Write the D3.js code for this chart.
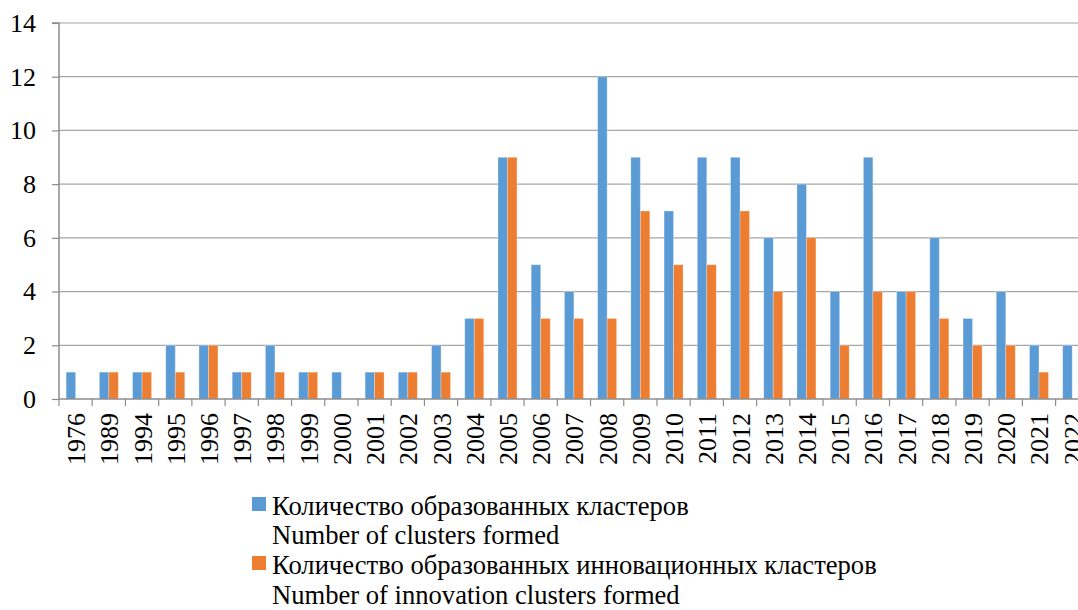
<!DOCTYPE html>
<html><head><meta charset="utf-8">
<script src="https://cdn.jsdelivr.net/npm/d3@7"></script>
<style>body{margin:0;background:#fff;overflow:hidden}svg{display:block}</style>
</head><body>
<svg id="c" width="1078" height="610"></svg>
<script>
const years = ["1976","1989","1994","1995","1996","1997","1998","1999","2000","2001","2002","2003","2004","2005","2006","2007","2008","2009","2010","2011","2012","2013","2014","2015","2016","2017","2018","2019","2020","2021","2022"];
const clusters =    [1,1,1,2,2,1,2,1,1,1,1,2,3,9,5,4,12,9,7,9,9,6,8,4,9,4,6,3,4,2,2];
const innovation =  [0,1,1,1,2,1,1,1,0,1,1,1,3,9,3,3,3,7,5,5,7,4,6,2,4,4,3,2,2,1,0];
const yTicks = [0,2,4,6,8,10,12,14];
const seriesNames = [
  ["Количество образованных кластеров","Number of clusters formed"],
  ["Количество образованных инновационных кластеров","Number of innovation clusters formed"]
];
const colors = ["#5B9BD5","#ED7D31"];

const FONT = "Liberation Serif";
const svg = d3.select("#c");
const L = 59, T = 23, B = 399, R = 59 + 31*33.22;

const x = d3.scaleBand().domain(years).range([L, R]).paddingInner(0).paddingOuter(0);
const y = d3.scaleLinear().domain([0,14]).range([B, T]);

// gridlines
svg.append("g").selectAll("line").data(yTicks.filter(d=>d>0)).join("line")
  .attr("x1", L).attr("x2", 1078).attr("y1", d=>y(d)).attr("y2", d=>y(d))
  .attr("stroke", "#a6a6a6").attr("stroke-width", 1.2);

// bars
const bw = x.bandwidth()/3.5;
[clusters, innovation].forEach((vals, si) => {
  svg.append("g").selectAll("rect").data(years).join("rect")
    .attr("x", d => x(d) + bw*0.75 + si*bw)
    .attr("y", (d,i) => y(vals[i]))
    .attr("width", bw)
    .attr("height", (d,i) => B - y(vals[i]))
    .attr("fill", colors[si])
    .attr("stroke", "rgba(255,255,255,0.35)").attr("stroke-width", 0.8);
});

// y axis
const yAxis = d3.axisLeft(y).tickValues(yTicks).tickSize(7).tickPadding(16).tickFormat(d3.format("d"));
const gy = svg.append("g").attr("transform", `translate(${L},0)`).call(yAxis);
gy.attr("font-family", FONT);
gy.select(".domain").attr("stroke","#8c8c8c").attr("stroke-width",1.5).attr("d", `M-7,${T}H0V${B}`);
gy.selectAll(".tick line").attr("stroke","#8c8c8c").attr("stroke-width",1.2);
gy.selectAll(".tick text").style("font-family", FONT).style("font-size", "26px").attr("fill","#000");

// x axis
const gx = svg.append("g").attr("transform", `translate(0,${B})`).attr("font-family", FONT);
gx.append("line").attr("x1", L).attr("x2", 1078).attr("stroke","#8c8c8c").attr("stroke-width",1.5);
gx.selectAll(".tk").data(years).join("line").attr("class","tk")
  .attr("x1", d=>x(d)).attr("x2", d=>x(d)).attr("y1",0).attr("y2",7)
  .attr("stroke","#8c8c8c").attr("stroke-width",1.2);
gx.selectAll("text").data(years).join("text")
  .attr("transform", d=>`translate(${x(d)+x.bandwidth()/2 + 9.5},14) rotate(-90)`)
  .attr("text-anchor","end")
  .style("font-family", FONT).style("font-size", "26px").attr("fill","#000")
  .text(d=>d);

// legend
const lg = svg.append("g").attr("font-family", FONT);
const baselines = [[515,544],[574,604]];
seriesNames.forEach((nm, i) => {
  lg.append("rect").attr("x", 252).attr("y", baselines[i][0]-18).attr("width", 14).attr("height", 14).attr("fill", colors[i]);
  nm.forEach((t, j) => {
    lg.append("text").attr("x", 272).attr("y", baselines[i][j])
      .style("font-family", FONT).style("font-size", "26.6px").attr("fill","#000").text(t);
  });
});
</script>
</body></html>
